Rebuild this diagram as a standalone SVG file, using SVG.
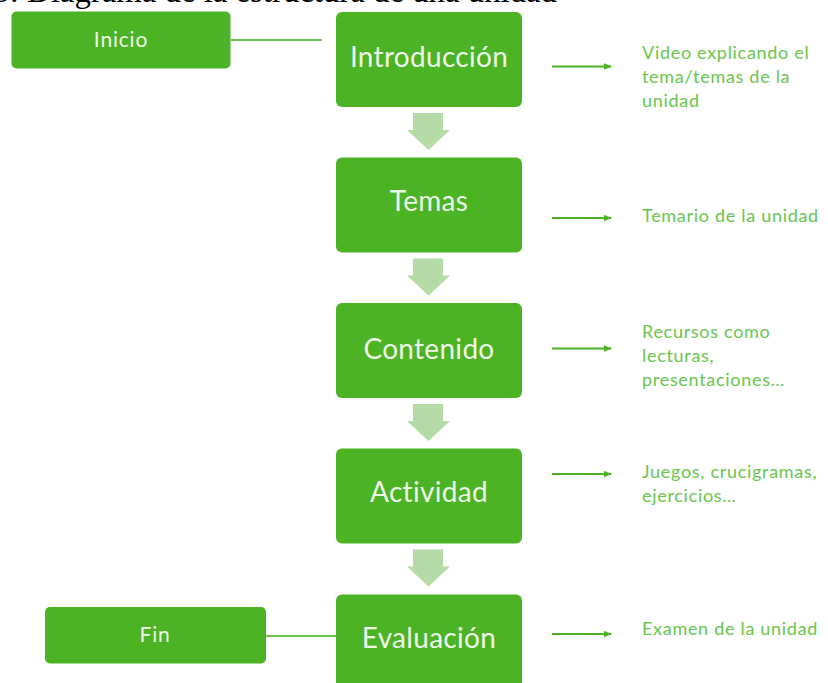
<svg xmlns="http://www.w3.org/2000/svg" width="828" height="683" viewBox="0 0 828 683">
<style>
.box{fill:#4bb324;}
.bt{font-family:Lato,"Noto Sans",sans-serif;fill:#eef8ea;text-anchor:middle;}
.big{font-size:28px;letter-spacing:0.3px;}
.small{font-size:21px;letter-spacing:0.8px;}
.side{font-family:Lato,"Noto Sans",sans-serif;font-size:18px;letter-spacing:0.7px;fill:#6ac64e;}
.line{stroke:#6cc24a;stroke-width:2;fill:none;}
.arr{stroke:#4bb324;stroke-width:2;fill:none;marker-end:url(#ah);}
.blk{fill:#b5dba6;}
.title{font-family:"Liberation Serif",serif;font-size:32.8px;fill:#000;}
</style>
<defs>
<marker id="ah" markerWidth="8" markerHeight="8" refX="7" refY="4" orient="auto" markerUnits="userSpaceOnUse">
<path d="M0,0.8 L8,4 L0,7.2 Z" fill="#4bb324"/>
</marker>
<path id="blockarrow" d="M413,0 H443 V17 H450 L428.5,37 L407,17 H413 Z"/>
</defs>
<rect width="828" height="683" fill="#fff"/>
<text class="title" x="-6.7" y="2">3: Diagrama de la estructura de una unidad</text>

<g id="connectors">
<line class="line" x1="231" y1="40" x2="322" y2="40"/>
<line class="line" x1="266" y1="636" x2="336" y2="636"/>
<line class="arr" x1="552" y1="66.5" x2="611" y2="66.5"/>
<line class="arr" x1="552" y1="218" x2="611" y2="218"/>
<line class="arr" x1="552" y1="348.5" x2="611" y2="348.5"/>
<line class="arr" x1="552" y1="474" x2="611" y2="474"/>
<line class="arr" x1="552" y1="634" x2="611" y2="634"/>
<use href="#blockarrow" class="blk" y="113"/>
<use href="#blockarrow" class="blk" y="258.5"/>
<use href="#blockarrow" class="blk" y="404"/>
<use href="#blockarrow" class="blk" y="549.5"/>
</g>

<g id="inicio">
<rect class="box" x="11.5" y="11.5" width="219" height="57" rx="5"/>
<text class="bt small" x="121" y="47">Inicio</text>
</g>
<g id="fin">
<rect class="box" x="45" y="607" width="221" height="56.5" rx="5"/>
<text class="bt small" x="155" y="642">Fin</text>
</g>

<g id="introduccion">
<rect class="box" x="336" y="12" width="186" height="95" rx="6"/>
<text class="bt big" x="429" y="67">Introducción</text>
</g>
<g id="temas">
<rect class="box" x="336" y="157.5" width="186" height="95" rx="6"/>
<text class="bt big" x="429" y="211">Temas</text>
</g>
<g id="contenido">
<rect class="box" x="336" y="303" width="186" height="95" rx="6"/>
<text class="bt big" x="429" y="359">Contenido</text>
</g>
<g id="actividad">
<rect class="box" x="336" y="448.5" width="186" height="95" rx="6"/>
<text class="bt big" x="429" y="502">Actividad</text>
</g>
<g id="evaluacion">
<rect class="box" x="336" y="594.5" width="186" height="100" rx="6"/>
<text class="bt big" x="429" y="648">Evaluación</text>
</g>

<g id="desc-introduccion">
<text class="side" x="642" y="59">Video explicando el</text>
<text class="side" x="642" y="83">tema/temas de la</text>
<text class="side" x="642" y="107">unidad</text>
</g>
<g id="desc-temas">
<text class="side" x="642" y="222">Temario de la unidad</text>
</g>
<g id="desc-contenido">
<text class="side" x="642" y="338">Recursos como</text>
<text class="side" x="642" y="362">lecturas,</text>
<text class="side" x="642" y="386">presentaciones…</text>
</g>
<g id="desc-actividad">
<text class="side" x="642" y="478">Juegos, crucigramas,</text>
<text class="side" x="642" y="502">ejercicios…</text>
</g>
<g id="desc-evaluacion">
<text class="side" x="642" y="635">Examen de la unidad</text>
</g>
</svg>
